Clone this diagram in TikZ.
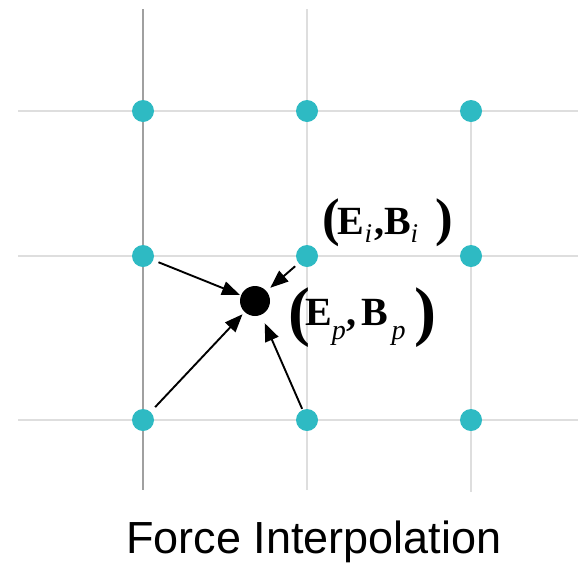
\documentclass[tikz,border=0pt]{standalone}
\usepackage{fontspec}
\setmainfont{Liberation Serif}
\newfontfamily\captionsans{Liberation Sans}
\usetikzlibrary{arrows.meta}
\definecolor{gridlight}{HTML}{DEDEDE}
\definecolor{griddark}{HTML}{A0A0A0}
\definecolor{dotcyan}{HTML}{2EBAC3}
\newcommand{\bigpar}[3]{{\fontsize{#1}{#1}\selectfont\raisebox{#2}{\bfseries #3}}}
\newcommand{\subtxt}[3]{\raisebox{#2}{\fontsize{#1}{#1}\selectfont\itshape #3}}
\begin{document}
\begin{tikzpicture}[x=1pt,y=-1pt,
  gridline/.style={draw=gridlight,line width=2.6pt},
  darkline/.style={draw=griddark,line width=1.8pt},
  gridpt/.style={circle,fill=dotcyan,minimum size=22pt,inner sep=0pt},
  particle/.style={circle,fill=black,minimum size=30pt,inner sep=0pt},
  force/.style={-{Triangle[length=18pt,width=14pt]},line width=1.9pt},
  fieldlabel/.style={anchor=base west,inner sep=0pt}]
\useasboundingbox (0,0) rectangle (578,563);
% grid end points
\coordinate (h1w) at (18,111);  \coordinate (h1e) at (578,111);
\coordinate (h2w) at (18,256);  \coordinate (h2e) at (578,256);
\coordinate (h3w) at (18,420);  \coordinate (h3e) at (578,420);
\coordinate (v1n) at (143,9);   \coordinate (v1s) at (143,490);
\coordinate (v2n) at (307,9);   \coordinate (v2s) at (307,490);
\coordinate (v3n) at (471,111); \coordinate (v3s) at (471,492);
\draw[gridline] (h1w) -- (h1e);
\draw[gridline] (h2w) -- (h2e);
\draw[gridline] (h3w) -- (h3e);
\draw[gridline] (v2n) -- (v2s);
\draw[gridline] (v3n) -- (v3s);
\draw[darkline] (v1n) -- (v1s);
% grid points
\node[gridpt] (n11) at (143,111) {};
\node[gridpt] (n12) at (307,111) {};
\node[gridpt] (n13) at (471,111) {};
\node[gridpt] (n21) at (143,256) {};
\node[gridpt] (n22) at (307,256) {};
\node[gridpt] (n23) at (471,256) {};
\node[gridpt] (n31) at (143,420) {};
\node[gridpt] (n32) at (307,420) {};
\node[gridpt] (n33) at (471,420) {};
% particle
\node[particle] (p) at (255,301) {};
% arrows
\draw[force,shorten <=5.5pt,shorten >=1pt] (n21) -- (p);
\draw[force,shorten <=4.5pt,shorten >=5pt] (n22) -- (p);
\draw[force,shorten <=6.5pt,shorten >=3pt] (n31) -- (p);
\draw[force,shorten <=1pt,shorten >=9pt] (n32) -- (p);
% labels
\node[fieldlabel] (lbli) at (322,234) {\bigpar{53pt}{-1pt}{(}\kern-2pt\fontsize{40pt}{40pt}\selectfont\textbf{E}\subtxt{27pt}{-8pt}{i}\kern2pt\textbf{,}\textbf{B}\subtxt{27pt}{-8pt}{i}\kern17pt\bigpar{53pt}{-1pt}{)}};
\node[fieldlabel] (lblp) at (288,325) {\bigpar{66pt}{-8pt}{(}\kern-5pt\fontsize{40pt}{40pt}\selectfont\textbf{E}\subtxt{28pt}{-14pt}{p}\kern1pt\textbf{,}\kern5pt\textbf{B}\kern3pt\subtxt{28pt}{-14pt}{p}\kern9pt\bigpar{66pt}{-8pt}{)}};
% caption
\node[anchor=base west,inner sep=0pt,font=\captionsans\fontsize{45pt}{45pt}\selectfont] (cap) at (126,553) {Force Interpolation};
\end{tikzpicture}
\end{document}
